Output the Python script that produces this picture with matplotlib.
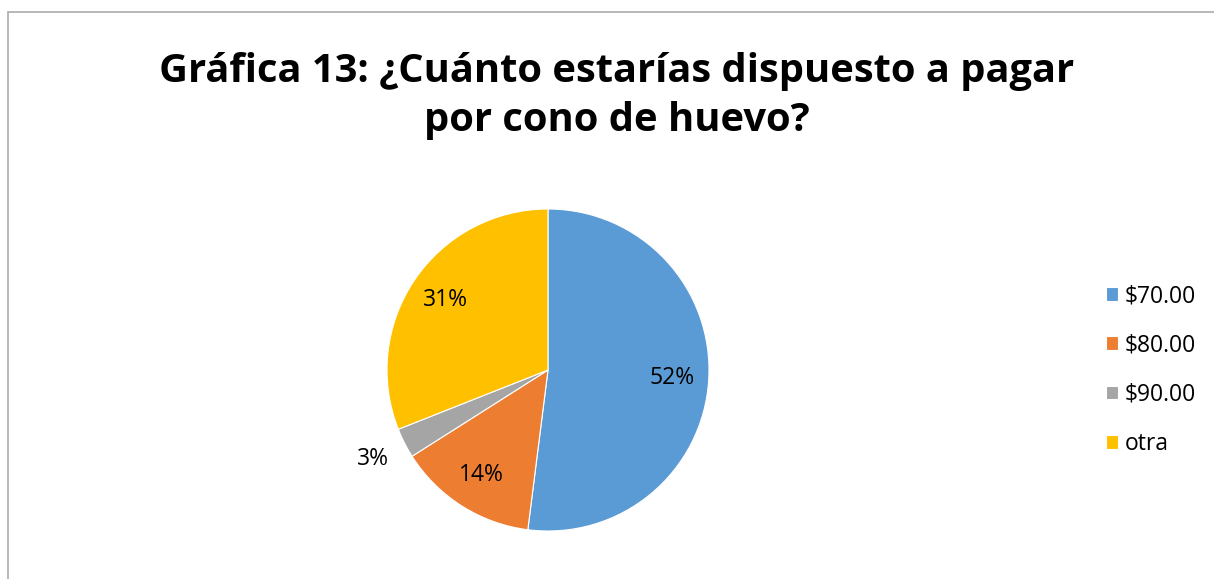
import matplotlib.pyplot as plt
import numpy as np
from matplotlib.patches import Rectangle

# Data
labels = ['$70.00', '$80.00', '$90.00', 'otra']
values = [52, 14, 3, 31]
colors = ['#5B9BD5', '#ED7D31', '#A5A5A5', '#FFC000']
title = 'Gráfica 13: ¿Cuánto estarías dispuesto a pagar\npor cono de huevo?'

plt.rcParams['font.family'] = ['Open Sans', 'DejaVu Sans']

W, H = 1214, 579
fig = plt.figure(figsize=(W / 100, H / 100), dpi=100)

# chart border (top and left visible)
fig.patches.append(Rectangle((8 / W, -0.05), 1.2, (H - 12) / H + 0.05,
                             transform=fig.transFigure, fill=False,
                             edgecolor='#ABABAB', lw=1.2))

fig.text(617 / W, 1 - 96 / H, title, ha='center', va='center',
         fontsize=28.7, fontweight='bold', linespacing=1.32)

# pie axes
cx, cy, r = 548, 370, 161
ax = fig.add_axes([(cx - r) / W, (H - cy - r) / H, 2 * r / W, 2 * r / H])
wedges, _ = ax.pie(values, colors=colors, startangle=90, counterclock=False,
                   wedgeprops=dict(edgecolor='white', linewidth=0.8))
ax.set_xlim(-1, 1)
ax.set_ylim(-1, 1)
ax.set_aspect('auto')

# percentage labels
for w, v in zip(wedges, values):
    mid = np.deg2rad((w.theta1 + w.theta2) / 2)
    d = 1.22 if v < 5 else 0.77
    ax.text(d * np.cos(mid), d * np.sin(mid), f'{v}%', ha='center', va='center',
            fontsize=16.5, color='#000000', clip_on=False)

# legend
leg = fig.legend(wedges, labels, loc='center left',
                 bbox_to_anchor=(1085 / W, 1 - 370 / H), frameon=False,
                 fontsize=16.5, handlelength=0.55, handleheight=0.55,
                 handletextpad=0.3, labelspacing=1.1)

fig.savefig('out.png', dpi=100)
